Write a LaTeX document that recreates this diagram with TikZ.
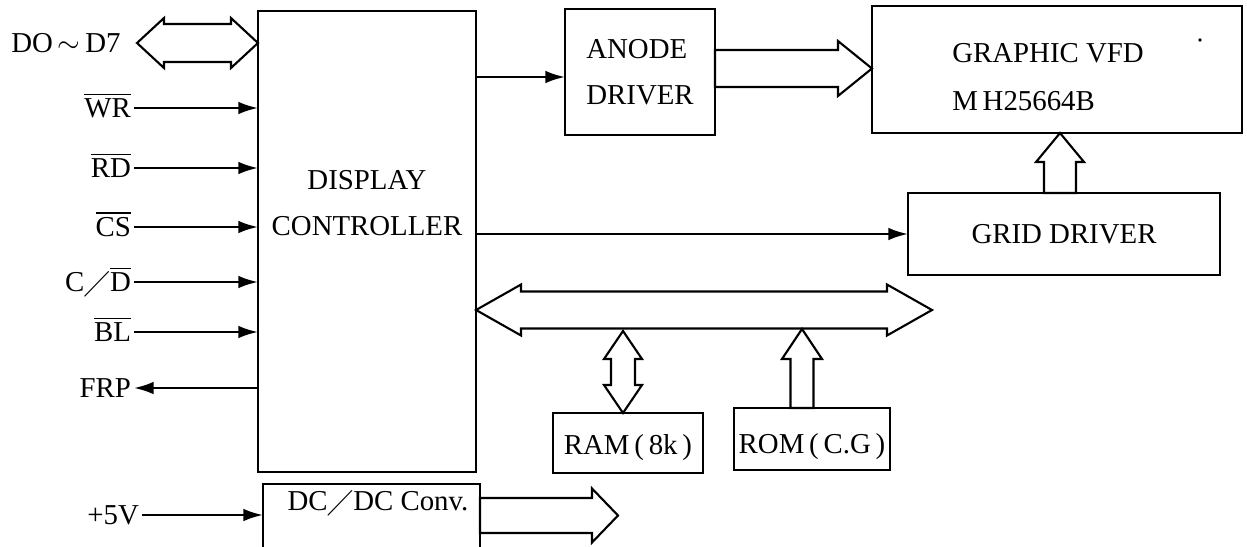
\documentclass[tikz,border=0pt]{standalone}
\usepackage{amsmath}
\usepackage{amssymb}
\usepackage{fontspec}
\setmainfont{Liberation Serif}
\usetikzlibrary{positioning,calc,arrows.meta}

\tikzset{
  box/.style={draw, line width=1.7pt, inner sep=0pt, outer sep=0pt},
  sig/.style={-{Latex[length=14pt,width=9pt]}, line width=1.6pt},
  fat/.style={draw, line width=1.5pt, line join=miter, fill=white},
  lab/.style={inner sep=2pt, text height=13pt, text depth=0pt},
}

% hollow double arrow, left tip #1, right tip #2
\newcommand{\hbus}[5]{%
  \draw[fat] (#1) -- ($(#1)+(#3,-#4)$) -- ($(#1)+(#3,-#5)$) -- ($(#2)+(-#3,-#5)$)
    -- ($(#2)+(-#3,-#4)$) -- (#2) -- ($(#2)+(-#3,#4)$) -- ($(#2)+(-#3,#5)$)
    -- ($(#1)+(#3,#5)$) -- ($(#1)+(#3,#4)$) -- cycle;}
% hollow double arrow, top tip #1, bottom tip #2
\newcommand{\vbus}[5]{%
  \draw[fat] (#1) -- ($(#1)+(#4,#3)$) -- ($(#1)+(#5,#3)$) -- ($(#2)+(#5,-#3)$)
    -- ($(#2)+(#4,-#3)$) -- (#2) -- ($(#2)+(-#4,-#3)$) -- ($(#2)+(-#5,-#3)$)
    -- ($(#1)+(-#5,#3)$) -- ($(#1)+(-#4,#3)$) -- cycle;}
% hollow single arrow to the right, tail #1, tip #2
\newcommand{\hfat}[5]{%
  \draw[fat] ($(#1)+(0,-#5)$) -- ($(#2)+(-#3,-#5)$) -- ($(#2)+(-#3,-#4)$) -- (#2)
    -- ($(#2)+(-#3,#4)$) -- ($(#2)+(-#3,#5)$) -- ($(#1)+(0,#5)$) -- cycle;}
% hollow single arrow upwards, tail #1, tip #2
\newcommand{\vfat}[5]{%
  \draw[fat] ($(#1)+(-#5,0)$) -- ($(#2)+(-#5,#3)$) -- ($(#2)+(-#4,#3)$) -- (#2)
    -- ($(#2)+(#4,#3)$) -- ($(#2)+(#5,#3)$) -- ($(#1)+(#5,0)$) -- cycle;}

\begin{document}
\begin{tikzpicture}[x=0.025cm,y=-0.025cm,font=\fontsize{20.5}{33}\selectfont]
\useasboundingbox (0,0) rectangle (1247,546);
\clip (0,0) rectangle (1247,546);

% blocks
\node[box, minimum width=5.45cm, minimum height=11.525cm] (ctrl) at (367,241.5) {};
\node[align=center] (ctrltxt) at (367,203) {DISPLAY\\CONTROLLER};
\node[box, minimum width=3.75cm, minimum height=3.15cm, align=left] (anode) at (640,72) {ANODE\\DRIVER};
\node[box, minimum width=9.25cm, minimum height=3.175cm] (vfd) at (1057,69.5) {};
\node[align=left] (vfdtxt) at (1048,77) {GRAPHIC VFD\\[1pt]M\,H25664B};
\node[box, minimum width=7.8cm, minimum height=2.05cm, text height=13pt, text depth=0pt] (grid) at (1064,234) {GRID DRIVER};
\node[box, minimum width=3.75cm, minimum height=1.5cm, text height=16pt, text depth=0pt] (ram) at (628,443) {RAM\,(\,8k\,)};
\node[box, minimum width=3.9cm, minimum height=1.55cm, text height=21pt, text depth=0pt] (rom) at (812,439) {ROM\,(\,C.G\,)};
\node[box, minimum width=5.425cm, minimum height=1.75cm, anchor=north] (dcdc) at (371.5,484) {};
\node (dcdctxt) at (378,503) {DC$\diagup$DC Conv.};
\fill (vfd.north west) ++(328,34) circle (1.3pt);

% input signals
\node[lab] (dbus) at (66,43) {DO$\,\sim\,$D7};
\foreach \nm/\txt/\yy in {wr/{$\overline{\mbox{WR}}$}/108, rd/{$\overline{\mbox{RD}}$}/168,
    cs/{$\overline{\mbox{CS}}$}/227, cd/{C$\diagup\overline{\mbox{D}}$}/282, bl/{$\overline{\mbox{BL}}$}/332}
{
  \node[lab, anchor=east] (\nm) at (134,\yy) {\txt};
  \draw[sig] (\nm) -- (\nm -| ctrl.west);
}
\node[lab, anchor=east] (frp) at (134,388) {FRP};
\draw[sig] (frp -| ctrl.west) -- (frp);
\node[lab, anchor=east] (vcc) at (142,515) {+5V};
\draw[sig] (vcc) -- (vcc -| dcdc.west);

% thin links
\draw[sig] (ctrl.east |- 0,77) -- (anode.west |- 0,77);
\draw[sig] (grid -| ctrl.east) -- (grid);

% buses
\coordinate (dL) at (137,43);
\coordinate (dR) at (ctrl.west |- dL);
\hbus{dL}{dR}{27}{25}{19}
\coordinate (bL) at (ctrl.east |- 0,310);
\coordinate (bR) at (932,310);
\hbus{bL}{bR}{45}{25.5}{18.5}
\coordinate (ramtip) at (623,331);
\coordinate (rambot) at (ramtip |- ram.north);
\vbus{ramtip}{rambot}{28}{19}{12}
\coordinate (romtail) at (802,0 |- rom.north);
\coordinate (romtip) at (802,329);
\vfat{romtail}{romtip}{30}{20}{11.5}
\coordinate (avT) at (anode.east |- 0,68.5);
\coordinate (avH) at (vfd.west |- avT);
\hfat{avT}{avH}{34}{27.5}{18.5}
\coordinate (gvT) at (1060,0 |- grid.north);
\coordinate (gvH) at (1060,0 |- vfd.south);
\vfat{gvT}{gvH}{29}{24}{16}
\coordinate (dcT) at (dcdc.east |- 0,515.5);
\coordinate (dcH) at (618,515.5);
\hfat{dcT}{dcH}{26}{27}{17.5}
\end{tikzpicture}
\end{document}
